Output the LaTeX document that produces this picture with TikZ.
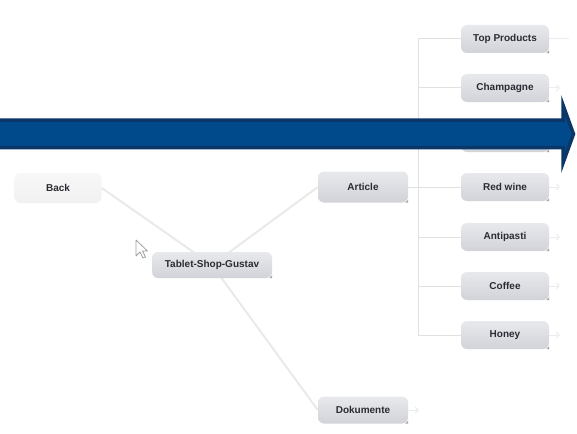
\documentclass[tikz,border=0pt]{standalone}
\usepackage{fontspec}
\setmainfont{Liberation Sans}
\usetikzlibrary{backgrounds}
\definecolor{arrowfill}{HTML}{004A8C}
\definecolor{arrowedge}{HTML}{0B3768}
\definecolor{boxtop}{HTML}{E8E9EC}
\definecolor{boxbot}{HTML}{D2D3D9}
\definecolor{linegray}{HTML}{E0E0E0}
\definecolor{connlight}{HTML}{EAEAEA}
\definecolor{txt}{HTML}{2B2B33}
\begin{document}
\begin{tikzpicture}[x=1pt,y=-1pt,
  nodebox/.style={rounded corners=6pt, top color=boxtop, bottom color=boxbot, draw=none,
    minimum width=88pt, minimum height=28pt, inner sep=2pt,
    font=\fontsize{10}{12}\selectfont\bfseries, text=txt},
  backbox/.style={nodebox, top color=gray!6, bottom color=gray!11, minimum width=87pt, minimum height=30pt},
  conn/.style={draw=connlight, line width=2pt},
  tree/.style={draw=linegray, line width=1pt},
  faint/.style={draw=gray!15, line width=1pt},
  tick/.style={fill=gray!70}
]
\useasboundingbox (0,0) rectangle (577,433);
\clip (0,0) rectangle (577,433);

% nodes
\node[backbox] (back) at (58,188) {Back};
\node[nodebox, minimum width=120pt, minimum height=26pt] (tablet) at (212,265) {Tablet-Shop-Gustav};
\node[nodebox, minimum width=90pt, minimum height=31pt] (article) at (363,187) {Article};
\node[nodebox, minimum width=90pt, minimum height=27pt] (doku) at (363,410) {Dokumente};

\node[nodebox] (top) at (505,39) {Top Products};
\node[nodebox] (champ) at (505,88) {Champagne};
\node[nodebox] (hidden) at (505,138) {};
\node[nodebox] (red) at (505,187) {Red wine};
\node[nodebox] (anti) at (505,237) {Antipasti};
\node[nodebox] (coffee) at (505,286) {Coffee};
\node[nodebox] (honey) at (505,335) {Honey};

\coordinate (vtop) at (418,39);
\coordinate (vbot) at (418,335);

% connectors
\begin{scope}[on background layer]
  \fill[white] (0,0) rectangle (577,433);
  \draw[conn] (back.east) -- (tablet.center);
  \draw[conn] (tablet.center) -- (article.west);
  \draw[conn] (tablet.center) -- (doku.west);
  \draw[tree] (vtop) -- (vbot);
  \draw[tree] (article.east) -- (article.east -| vtop);
  \foreach \n in {top,champ,hidden,red,anti,coffee,honey}
    \draw[tree] (\n.west -| vtop) -- (\n.west);
\end{scope}

% faint markers on the right
\draw[faint] (top.east) -- ++(20pt,0pt);
\foreach \n in {champ,hidden,red,anti,coffee,honey,doku}{
  \draw[faint] (\n.east) -- ++(10pt,0pt);
  \draw[faint] ([shift={(7pt,3pt)}]\n.east) -- ([shift={(10pt,0pt)}]\n.east) -- ([shift={(7pt,-3pt)}]\n.east);
}

% corner ticks
\foreach \n in {tablet,article,doku,top,champ,hidden,red,anti,coffee,honey}
  \fill[tick] (\n.south east) -- ++(-3pt,0pt) -- ++(3pt,3pt) -- cycle;

% cursor
\draw[gray!75, fill=white, line width=0.8pt, line join=round]
  (136,240) -- (136,256) -- (140,252) -- (143,258) -- (145.5,257) -- (142.5,251) -- (147.5,251) -- cycle;

% big arrow
\draw[draw=arrowedge, fill=arrowfill, line width=3.5pt, line join=miter]
  (-10,120) -- (563,120) -- (563,105) -- (573.5,134) -- (563,163) -- (563,147.5) -- (-10,147.5) -- cycle;
\end{tikzpicture}
\end{document}
